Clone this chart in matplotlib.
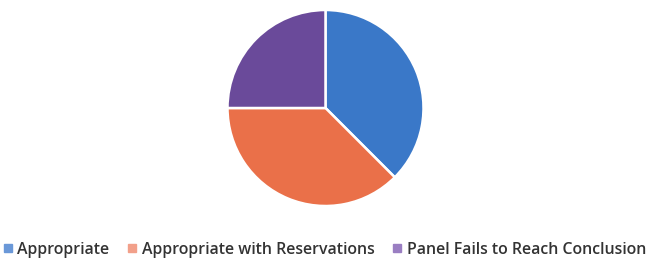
import matplotlib
matplotlib.use("Agg")
import matplotlib.pyplot as plt
from matplotlib.lines import Line2D

categories = ["Appropriate", "Appropriate with Reservations", "Panel Fails to Reach Conclusion"]
values = [37.5, 37.5, 25.0]
colors = ["#3a78c8", "#ea7049", "#6a4a9a"]
legend_colors = ["#6a98d8", "#f2a08a", "#9a7ec2"]

fig = plt.figure(figsize=(6.5, 2.61), dpi=100)
ax = fig.add_axes([0, 0, 1, 1])
ax.set_xlim(0, 650)
ax.set_ylim(261, 0)
ax.axis("off")

pax = fig.add_axes([(325.5 - 98) / 650, 1 - (108 + 98) / 261, 196 / 650, 196 / 261])
pax.pie(values, colors=colors, startangle=90, counterclock=False,
        wedgeprops=dict(edgecolor="white", linewidth=1.8))
pax.set_xlim(-1.0, 1.0)
pax.set_ylim(-1.0, 1.0)
pax.set_aspect("equal")

handles = [Line2D([], [], marker="s", linestyle="", markersize=6,
                  markerfacecolor=c, markeredgecolor=c) for c in legend_colors]
fig.legend(handles, categories, loc="center", bbox_to_anchor=(0.498, 1 - 250 / 261),
           ncol=3, frameon=False, handletextpad=0.2, columnspacing=1.05,
           handlelength=0.8, prop=dict(family="Open Sans", size=11.4, weight="semibold"),
           labelcolor="#333333")

fig.savefig("out.png", dpi=100)
